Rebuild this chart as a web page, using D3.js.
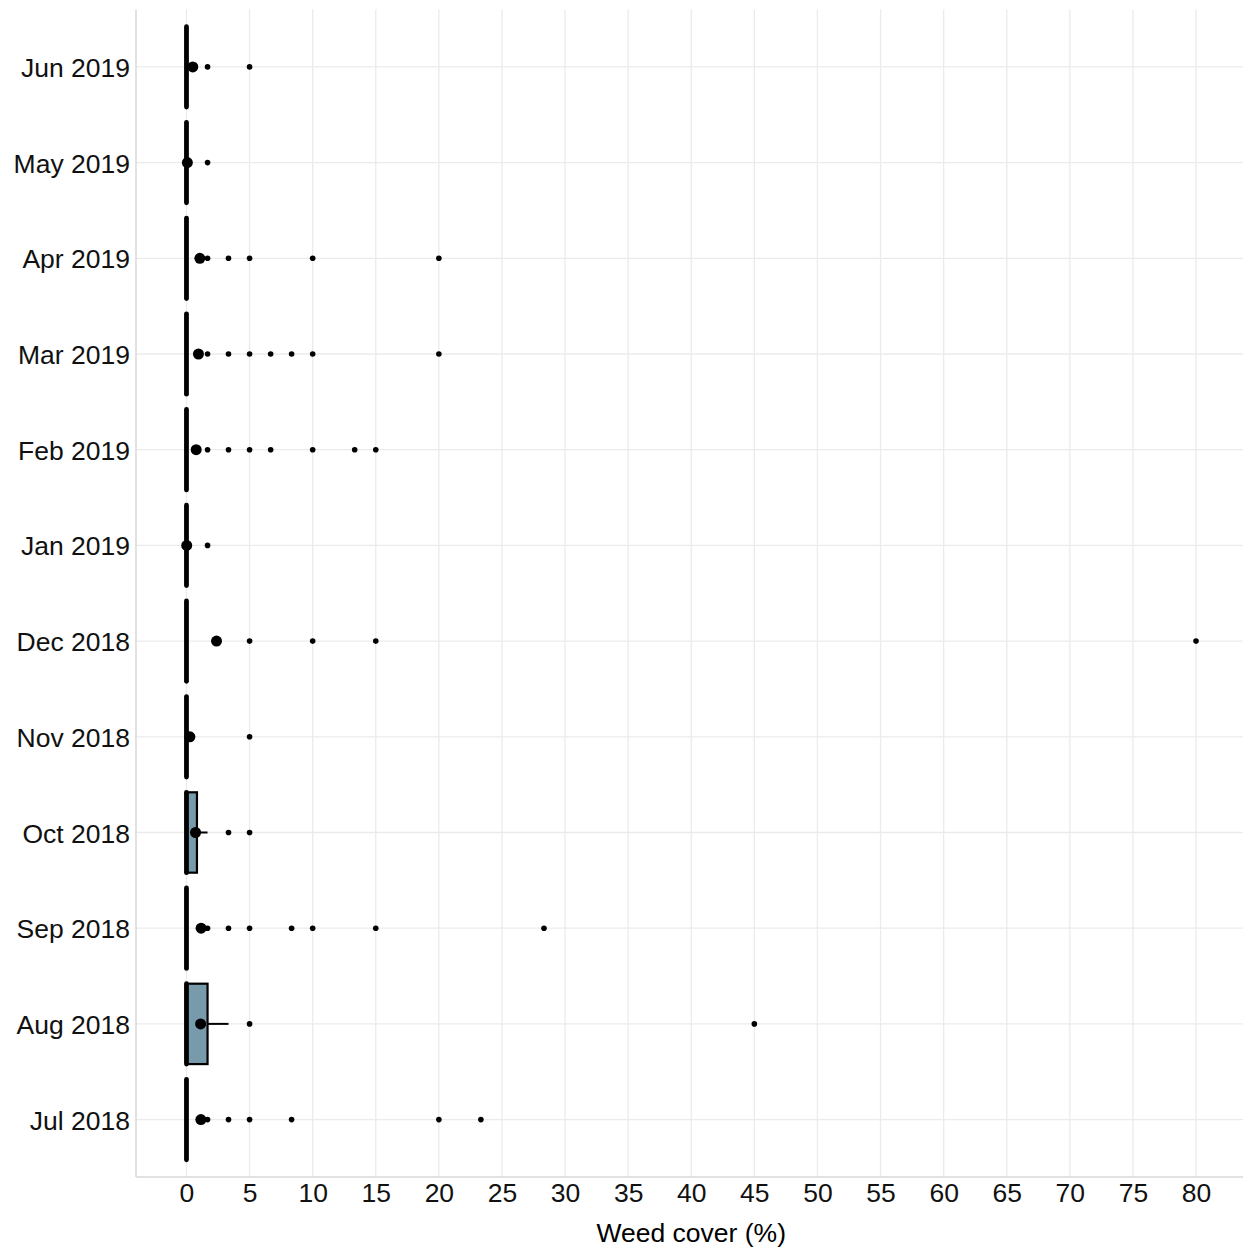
<!DOCTYPE html>
<html>
<head>
<meta charset="utf-8">
<script src="https://cdn.jsdelivr.net/npm/d3@7/dist/d3.min.js"></script>
<style>
  html, body { margin: 0; padding: 0; background: #fff; }
  svg { display: block; }
</style>
</head>
<body>
<svg id="chart" width="1243" height="1249"></svg>
<script>
// ---- Data ----
const categories = ["Jun 2019","May 2019","Apr 2019","Mar 2019","Feb 2019","Jan 2019",
                    "Dec 2018","Nov 2018","Oct 2018","Sep 2018","Aug 2018","Jul 2018"];
const q1Values      = [0,0,0,0,0,0,0,0,0,0,0,0];
const medianValues  = [0,0,0,0,0,0,0,0,0,0,0,0];
const q3Values      = [0,0,0,0,0,0,0,0,0.83,0,1.67,0];
const whiskerLow    = [0,0,0,0,0,0,0,0,0,0,0,0];
const whiskerHigh   = [0,0,0,0,0,0,0,0,1.67,0,3.33,0];
const meanValues    = [0.5,0.07,1.06,0.95,0.77,0.02,2.38,0.27,0.72,1.16,1.12,1.14];
const outlierValues = [
  [1.67, 5],
  [1.67],
  [1.67, 3.33, 5, 10, 20],
  [1.67, 3.33, 5, 6.67, 8.33, 10, 20],
  [1.67, 3.33, 5, 6.67, 10, 13.33, 15],
  [1.67],
  [5, 10, 15, 80],
  [5],
  [3.33, 5],
  [1.67, 3.33, 5, 8.33, 10, 15, 28.33],
  [5, 45],
  [1.67, 3.33, 5, 8.33, 20, 23.33]
];
const xTicks = d3.range(0, 81, 5);
const xTitle = "Weed cover (%)";

// ---- Layout ----
const svg = d3.select("#chart");
const panel = { left: 136, right: 1246.5, top: 9.5, bottom: 1177 };
const FONT = "'Liberation Sans', Arial, sans-serif";

const x = d3.scaleLinear().domain([-4, 84]).range([panel.left, panel.right]);
const y = d3.scalePoint().domain(categories).range([panel.top, panel.bottom]).padding(0.6);
const boxH = y.step() * 0.84;

const rows = categories.map((c, i) => ({
  cat: c, q1: q1Values[i], med: medianValues[i], q3: q3Values[i],
  lo: whiskerLow[i], hi: whiskerHigh[i], mean: meanValues[i], out: outlierValues[i]
}));

// gridlines
const grid = svg.append("g");
grid.selectAll("line.v").data(xTicks).join("line")
  .attr("x1", d => x(d)).attr("x2", d => x(d))
  .attr("y1", panel.top).attr("y2", panel.bottom)
  .attr("stroke", "#ebebeb").attr("stroke-width", 1.3);
grid.selectAll("line.h").data(categories).join("line")
  .attr("x1", panel.left).attr("x2", panel.right)
  .attr("y1", d => y(d)).attr("y2", d => y(d))
  .attr("stroke", "#ebebeb").attr("stroke-width", 1.3);

// axis lines
svg.append("line").attr("x1", panel.left).attr("x2", panel.left)
  .attr("y1", panel.top).attr("y2", panel.bottom)
  .attr("stroke", "#d9d9d9").attr("stroke-width", 1.5);
svg.append("line").attr("x1", panel.left).attr("x2", panel.right)
  .attr("y1", panel.bottom).attr("y2", panel.bottom)
  .attr("stroke", "#d9d9d9").attr("stroke-width", 1.5);

// boxes
const g = svg.append("g");
const rg = g.selectAll("g.row").data(rows).join("g");

// whiskers
rg.append("line")
  .attr("x1", d => x(d.q3)).attr("x2", d => x(d.hi))
  .attr("y1", d => y(d.cat)).attr("y2", d => y(d.cat))
  .attr("stroke", "#000").attr("stroke-width", 2);
rg.append("line")
  .attr("x1", d => x(d.lo)).attr("x2", d => x(d.q1))
  .attr("y1", d => y(d.cat)).attr("y2", d => y(d.cat))
  .attr("stroke", "#000").attr("stroke-width", 2);

rg.append("rect")
  .attr("x", d => x(d.q1))
  .attr("width", d => x(d.q3) - x(d.q1))
  .attr("y", d => y(d.cat) - boxH / 2)
  .attr("height", boxH)
  .attr("fill", "#789bac")
  .attr("stroke", "#000").attr("stroke-width", 2.2);

// median
rg.append("line")
  .attr("x1", d => x(d.med)).attr("x2", d => x(d.med))
  .attr("y1", d => y(d.cat) - boxH / 2).attr("y2", d => y(d.cat) + boxH / 2)
  .attr("stroke", "#000").attr("stroke-width", 4.8).attr("stroke-linecap", "round");

// outliers
rg.selectAll("circle.out").data(d => d.out.map(v => ({ v, cat: d.cat }))).join("circle")
  .attr("cx", d => x(d.v)).attr("cy", d => y(d.cat)).attr("r", 2.8).attr("fill", "#000");

// means
rg.append("circle")
  .attr("cx", d => x(d.mean)).attr("cy", d => y(d.cat)).attr("r", 5.5).attr("fill", "#000");

// axes (labels only)
const xAxis = svg.append("g").attr("transform", `translate(0,${panel.bottom})`)
  .call(d3.axisBottom(x).tickValues(xTicks).tickSize(0).tickPadding(6).tickFormat(d3.format("d")));
xAxis.select(".domain").remove();
xAxis.selectAll("text").attr("font-family", FONT).attr("font-size", 26.5).attr("fill", "#111");

const yAxis = svg.append("g").attr("transform", `translate(${panel.left},0)`)
  .call(d3.axisLeft(y).tickSize(0).tickPadding(6));
yAxis.select(".domain").remove();
yAxis.selectAll("text").attr("font-family", FONT).attr("font-size", 26.5).attr("fill", "#111")
  .attr("dy", "0.36em");

svg.append("text")
  .attr("x", (panel.left + panel.right) / 2).attr("y", 1242)
  .attr("text-anchor", "middle")
  .attr("font-family", FONT).attr("font-size", 26.5).attr("fill", "#000")
  .text(xTitle);
</script>
</body>
</html>
